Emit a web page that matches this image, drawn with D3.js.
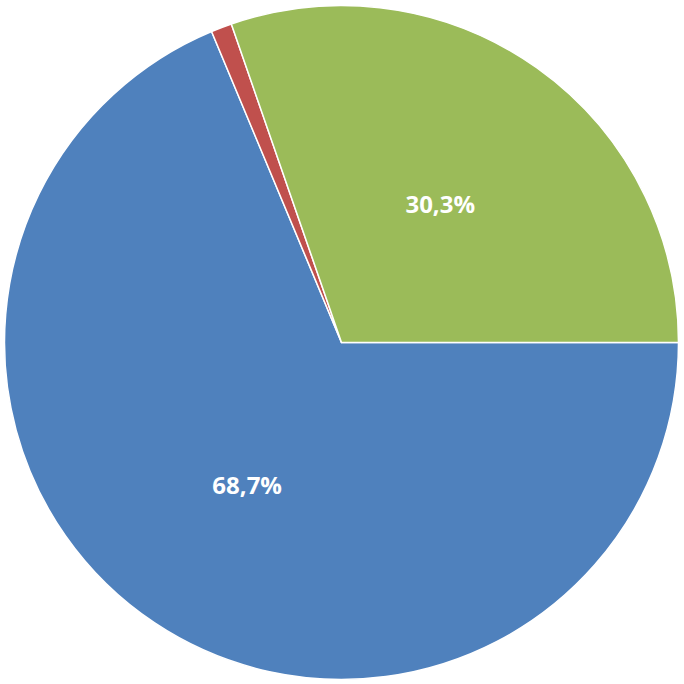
<!DOCTYPE html>
<html>
<head>
<meta charset="utf-8">
<script src="https://cdn.jsdelivr.net/npm/d3@7"></script>
<style>
  html, body { margin: 0; padding: 0; background: #ffffff; }
  svg { display: block; }
</style>
</head>
<body>
<svg id="chart" width="684" height="684"></svg>
<script>
const categories = ["A", "B", "C"];
const values = [68.7, 1.0, 30.3];
const labels = ["68,7%", "", "30,3%"];
const colors = ["#4F81BD", "#C0504D", "#9BBB59"];

const W = 684, H = 684;
const cx = 341.5, cy = 342.5, R = 337;

const svg = d3.select("#chart");
const g = svg.append("g").attr("transform", `translate(${cx},${cy})`);

const data = categories.map((c, i) => ({ c, v: values[i], label: labels[i], color: colors[i] }));

const pie = d3.pie()
  .value(d => d.v)
  .sort(null)
  .startAngle(Math.PI / 2)
  .endAngle(Math.PI / 2 + 2 * Math.PI);

const arc = d3.arc().innerRadius(0).outerRadius(R);
const labelArc = d3.arc().innerRadius(R * 0.505).outerRadius(R * 0.505);

const arcs = pie(data);

g.selectAll("path.slice")
  .data(arcs)
  .join("path")
  .attr("class", "slice")
  .attr("d", arc)
  .attr("fill", d => d.data.color)
  .attr("stroke", "#ffffff")
  .attr("stroke-width", 1.5)
  .attr("stroke-linejoin", "round");

g.selectAll("text.lbl")
  .data(arcs.filter(d => d.data.label))
  .join("text")
  .attr("class", "lbl")
  .attr("transform", d => `translate(${labelArc.centroid(d)})`)
  .attr("text-anchor", "middle")
  .attr("dominant-baseline", "central")
  .attr("font-family", "'Open Sans', sans-serif")
  .attr("font-weight", "bold")
  .attr("font-size", 24)
  .attr("fill", "#ffffff")
  .text(d => d.data.label);
</script>
</body>
</html>
